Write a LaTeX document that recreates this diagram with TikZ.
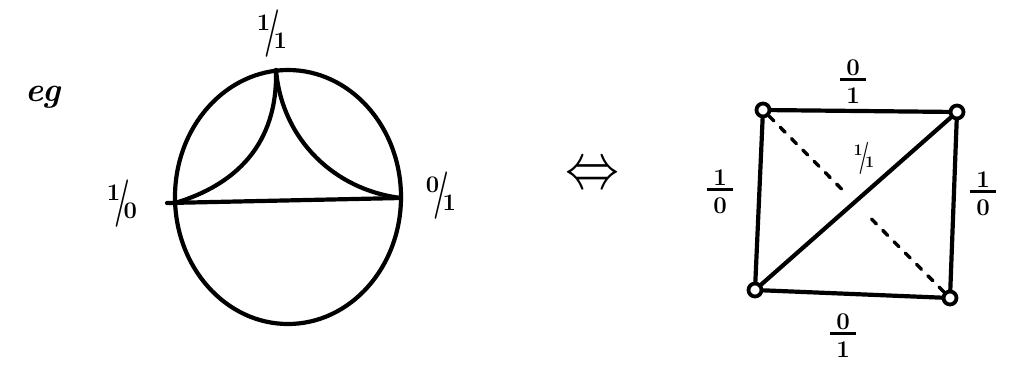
\documentclass[tikz,border=0pt]{standalone}
\usepackage{fontspec}
\usepackage{graphicx}
\usetikzlibrary{calc}
\newcommand\stfr[2]{\shortstack{#1\\[-1pt]\rule[0.3ex]{1.05em}{3pt}\\[1pt]#2}}
\newcommand\slfr[2]{\raisebox{0.42em}{\scalebox{0.85}{#1}}\kern-0.22em\raisebox{-0.12em}{\scalebox{1}[1.7]{/}}\kern-0.22em\raisebox{-0.2em}{\scalebox{0.85}{#2}}}
\begin{document}
\begin{tikzpicture}[x=1pt,y=-1pt,line cap=round,line join=round,
  ln/.style={line width=4.2pt},
  vtx/.style={circle,draw,line width=3.8pt,fill=white,inner sep=0pt,minimum size=13pt},
  lab/.style={font=\fontsize{28}{28}\selectfont\bfseries,inner sep=0pt},
  frc/.style={font=\fontsize{24}{24}\selectfont\bfseries,inner sep=0pt},
  sml/.style={font=\fontsize{19}{19}\selectfont\bfseries,inner sep=0pt}]
\useasboundingbox (0,0) rectangle (1015,381);
% left picture
\node[font=\fontsize{34}{34}\selectfont\bfseries\itshape,inner sep=0pt] (eg) at (43,97) {eg};
\draw[ln] (288,197) ellipse [x radius=113, y radius=127];
\coordinate (T) at (276,70);
\coordinate (L) at (175,203);
\coordinate (Ls) at (167,203);
\coordinate (R) at (401,198);
\draw[ln] (T) .. controls (278,145) and (235,185) .. (L);
\draw[ln] (T) .. controls (282,140) and (335,190) .. (R);
\draw[ln] (Ls) -- (R);
\node[lab] (t11) at (272,34) {\slfr11};
\node[lab] (t10) at (122,204) {\slfr10};
\node[lab] (t01) at (441,196) {\slfr01};
% arrow
\node[inner sep=0pt] (iff) at (592,177) {\scalebox{5.4}[6.5]{$\Leftrightarrow$}};
% right picture
\node[vtx] (a) at (763,110) {};
\node[vtx] (b) at (957,112) {};
\node[vtx] (c) at (755,290) {};
\node[vtx] (d) at (950,298) {};
\draw[ln] (a) -- (b);
\draw[ln] (b) -- (d);
\draw[ln] (d) -- (c);
\draw[ln] (c) -- (a);
\draw[ln] (c) -- (b);
\draw[line width=3.4pt,dash pattern=on 7pt off 9pt] (a) -- ($(a)!0.42!(d)$);
\draw[line width=3.4pt,dash pattern=on 7pt off 9pt] ($(a)!0.58!(d)$) -- (d);
\node[frc] (ft) at (853,82) {\stfr01};
\node[frc] (fb) at (843,336) {\stfr01};
\node[frc] (fl) at (720,192) {\stfr10};
\node[frc] (fr) at (983,194) {\stfr10};
\node[sml] (fd) at (864,158) {\slfr11};
\end{tikzpicture}
\end{document}
